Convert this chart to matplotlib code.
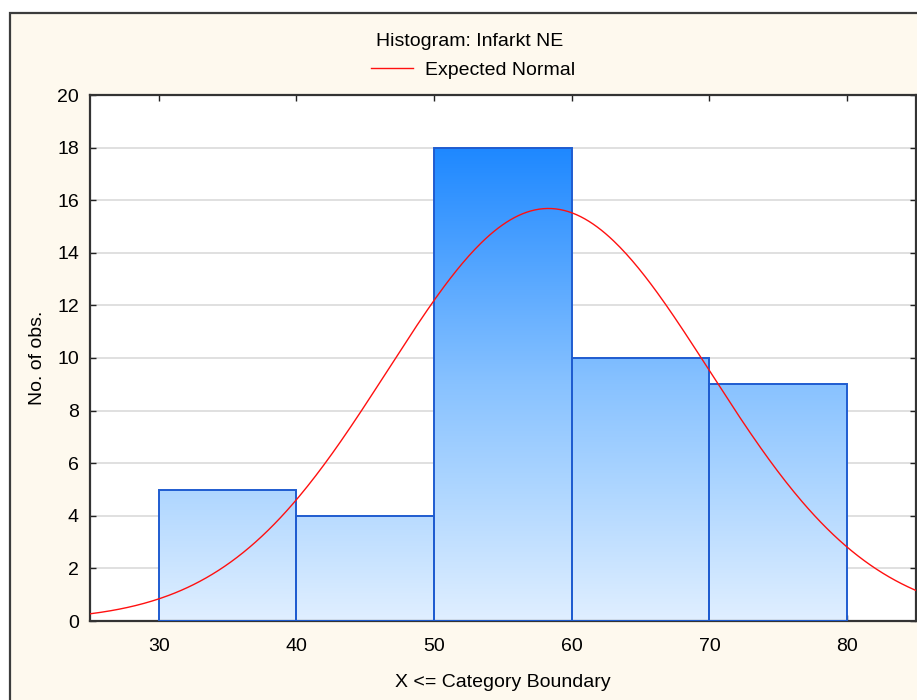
import numpy as np
import matplotlib
matplotlib.use("Agg")
import matplotlib.pyplot as plt
from matplotlib.colors import LinearSegmentedColormap
from matplotlib.patches import Rectangle

plt.rcParams['font.family'] = ['Liberation Sans', 'DejaVu Sans']

# histogram data (category boundaries, counts)
bin_left = [30, 40, 50, 60, 70]
bin_width = 10
counts = [5, 4, 18, 10, 9]
# expected normal fit parameters
norm_mean = 58.3
norm_sd = 11.7
n_obs = sum(counts)

x_ticks = [30, 40, 50, 60, 70, 80]
y_ticks = [0, 2, 4, 6, 8, 10, 12, 14, 16, 18, 20]

FS = 14

fig = plt.figure(figsize=(9.17, 7.0), dpi=100, facecolor="white")
# beige panel with dark frame
fig.patches.append(Rectangle((10/917, -0.05), 1.0, 1.05 - 13/700,
                             transform=fig.transFigure, facecolor="#FEF9EE",
                             edgecolor="#3c3c3c", lw=1.6, zorder=-10))

ax = fig.add_axes([90/917, 1 - 621/700, 826/917, 526/700])
ax.set_facecolor("white")
ax.set_xlim(25, 85)
ax.set_ylim(0, 20)

cmap = LinearSegmentedColormap.from_list(
    "grad", [(0, "#E0EFFF"), (5/18, "#AED6FF"), (9/18, "#88C2FF"), (1, "#1E88FF")])
grad = np.linspace(0, 1, 256).reshape(-1, 1)

for x0, c in zip(bin_left, counts):
    rect = Rectangle((x0, 0), bin_width, c, facecolor="none",
                     edgecolor="#1F5CD0", lw=1.4, zorder=3)
    ax.add_patch(rect)
    im = ax.imshow(grad, extent=(x0, x0 + bin_width, 0, 18), origin="lower",
                   cmap=cmap, aspect="auto", zorder=2)
    im.set_clip_path(rect)

xs = np.linspace(25, 85, 400)
expected = n_obs * bin_width * np.exp(-0.5 * ((xs - norm_mean) / norm_sd) ** 2) / (norm_sd * np.sqrt(2 * np.pi))
line, = ax.plot(xs, expected, color="#FF1010", lw=1.0, zorder=4, label="Expected Normal")

ax.set_xlim(25, 85)
ax.set_ylim(0, 20)
ax.set_xticks(x_ticks)
ax.set_yticks(y_ticks)
ax.yaxis.grid(True, color="#DADADA", lw=1.2, zorder=0)
ax.set_axisbelow(True)
ax.tick_params(axis="both", direction="in", length=4, width=1, labelsize=FS,
               top=True, right=True, color="#222222")
ax.tick_params(axis="x", pad=12)
ax.tick_params(axis="y", pad=8)
for s in ax.spines.values():
    s.set_color("#333333")
    s.set_linewidth(1.6)

ax.set_xlabel("X <= Category Boundary", fontsize=FS, labelpad=14)
ax.set_ylabel("No. of obs.", fontsize=FS, labelpad=8)

fig.text(470/917, 1 - 41/700, "Histogram: Infarkt NE", ha="center", va="center", fontsize=FS)
fig.legend(handles=[line], loc="center", bbox_to_anchor=(473/917, 1 - 70/700),
           frameon=False, fontsize=FS, handlelength=2.2, handletextpad=0.6)

fig.savefig("out.png", dpi=100, facecolor="white")
